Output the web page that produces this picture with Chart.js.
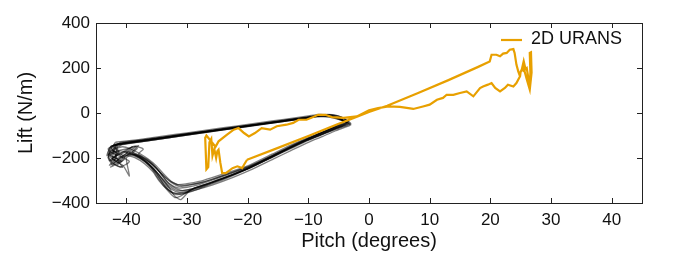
<!DOCTYPE html>
<html>
<head>
<meta charset="utf-8">
<script src="https://cdn.jsdelivr.net/npm/chart.js@4.4.1/dist/chart.umd.min.js"></script>
<style>
html,body{margin:0;padding:0;background:#fff;}
#wrap{width:673px;height:269px;position:relative;}
</style>
</head>
<body>
<div id="wrap"><canvas id="c" width="673" height="269"></canvas></div>
<script>
// ---- data (pitch in degrees, lift in N/m) ----
const xTickValues = [-40, -30, -20, -10, 0, 10, 20, 30, 40];
const yTickValues = [-400, -200, 0, 200, 400];
const seriesLabel = '2D URANS';

// 2D URANS hysteresis loop [pitch, lift]
const uransLoop = [
  [-20.1,-208],[-15,-155],[-10,-102],[-5,-48],[-2.5,-22],[0,5],[3,32],[8,88],[13,145],[18,205],
  [19.9,229],[20.2,259],[21,259],[21.6,252],[22.1,264],[22.7,267],[23.2,281],[23.8,284],[24,267],
  [24.3,215],[24.6,185],[24.8,170],[25.2,195],[25.5,230],[25.8,195],[25.3,185],[26,200],[26.3,150],
  [26.5,110],[26.6,180],[26.5,267],[26.7,270],[26.8,180],[26.5,104],[26,150],[25.5,200],[25,185],
  [24.9,163],[24.3,133],[23.8,118],[22.9,126],[22.4,111],[21.6,96],[20.8,111],[20.2,133],[19.6,126],
  [18.8,118],[18.3,111],[17.2,74],[16.1,96],[15,89],[13.9,81],[12.8,81],[12.2,67],[11.2,59],[10,37],
  [8.9,29],[7.3,18],[6.5,22],[5.1,27],[3.2,29],[1.5,22],[0,12],[-2,-15],[-4.2,-22],[-6.1,-18],
  [-7.2,-8],[-8.4,-8],[-9.2,-18],[-10.3,-30],[-11.6,-30],[-12.5,-44],[-13.6,-52],[-15.2,-59],
  [-16.3,-74],[-17.7,-67],[-18.8,-89],[-19.8,-104],[-20.6,-89],[-21.5,-67],[-22.3,-74],[-23.4,-96],
  [-24.8,-126],[-25.3,-150],[-26.8,-100],[-27,-110],[-26.8,-250],[-26.5,-240],[-26.3,-130],[-26,-115],
  [-25.8,-190],[-25.5,-160],[-25.2,-200],[-25,-170],[-24.8,-163],[-24.5,-222],[-24.2,-267],
  [-23.6,-267],[-22.5,-245],[-21.7,-237],[-20.9,-245],[-20.6,-230],[-20.1,-208]
];

// measured cycles [pitch, lift]
const expCycle1 = [[-41.5,-138],[-38,-125],[-34,-110],[-30,-94],[-26,-79],[-22,-64],[-18,-49],[-14,-34],[-10,-19],[-8,-11],[-6.5,-11],[-5,-22],[-3.8,-42],[-4.5,-54],[-6,-70],[-8,-92],[-10,-113],[-13,-150],[-16,-190],[-20,-243],[-23,-272],[-26,-300],[-28,-318],[-30,-330],[-31.5,-333],[-33,-312],[-34,-283],[-35,-245],[-36.5,-207],[-38,-182],[-37.2,-160],[-38.8,-148],[-40.5,-172],[-41.8,-195],[-40.8,-215],[-42.3,-205],[-41.2,-170],[-42,-150],[-41.5,-138]];
const expCycle2 = [[-42,-142],[-38,-129],[-34,-114],[-30,-98],[-26,-83],[-22,-67],[-18,-52],[-14,-37],[-10,-22],[-8,-14],[-6,-16],[-4.5,-30],[-3.2,-50],[-4,-60],[-6,-78],[-8,-100],[-10,-122],[-13,-160],[-16,-198],[-20,-250],[-23,-282],[-26,-312],[-28,-332],[-30,-348],[-31.5,-352],[-33,-330],[-34,-300],[-35,-262],[-36.5,-220],[-38,-190],[-39.5,-176],[-38.5,-150],[-40.5,-190],[-42,-225],[-41,-240],[-39.5,-215],[-42.5,-175],[-43,-160],[-42,-142]];
const expCycle3 = [[-40.5,-132],[-37,-119],[-33,-104],[-29,-89],[-25,-74],[-21,-59],[-17,-44],[-13,-30],[-9.5,-16],[-7.5,-8],[-6,-9],[-4.5,-18],[-3.5,-38],[-4.2,-48],[-5.5,-62],[-7.5,-84],[-10,-108],[-13,-144],[-16,-183],[-20,-235],[-23,-262],[-26,-288],[-28,-304],[-30,-314],[-31.5,-318],[-33,-298],[-34.5,-262],[-36,-222],[-37.5,-192],[-39,-172],[-38,-145],[-40,-160],[-41.5,-168],[-43,-185],[-42.4,-215],[-42,-160],[-41,-145],[-40.5,-132]];
const expCycle4 = [[-42.5,-146],[-39,-131],[-35,-115],[-31,-99],[-27,-84],[-23,-69],[-19,-54],[-15,-39],[-11,-24],[-8.5,-14],[-7,-12],[-5.5,-19],[-4,-35],[-4.8,-50],[-6.5,-72],[-8.5,-96],[-11,-126],[-14,-166],[-17,-205],[-20.5,-252],[-24,-290],[-27,-318],[-29,-337],[-31,-368],[-32,-376],[-33.5,-335],[-35,-280],[-36,-240],[-37.5,-205],[-39,-186],[-40,-200],[-39.5,-280],[-40.5,-235],[-42,-210],[-43,-180],[-42.5,-146]];
const expCycle5 = [[-41,-134],[-37.5,-122],[-33.5,-107],[-29.5,-92],[-25.5,-77],[-21.5,-62],[-17.5,-47],[-13.5,-32],[-9.5,-18],[-7.8,-9],[-6.2,-8],[-4.8,-16],[-3,-46],[-3.6,-52],[-5.2,-66],[-7,-86],[-9.5,-112],[-12.5,-148],[-15.5,-188],[-19,-236],[-22,-268],[-25,-298],[-27.5,-322],[-29.5,-340],[-31,-344],[-32.5,-325],[-33.5,-298],[-34.5,-262],[-36,-222],[-37.5,-196],[-39,-180],[-38.2,-158],[-40,-190],[-41.5,-230],[-40.5,-205],[-42,-168],[-43.2,-190],[-42.6,-150],[-41,-134]];
const expCycle6 = [[-42,-140],[-38.5,-127],[-34.5,-112],[-30.5,-96],[-26.5,-81],[-22.5,-66],[-18.5,-51],[-14.5,-36],[-10.5,-21],[-8.2,-12],[-6.8,-13],[-5.2,-26],[-3.6,-44],[-4.4,-58],[-6.2,-76],[-8.2,-98],[-10.5,-124],[-13.5,-162],[-16.5,-202],[-20,-248],[-23,-280],[-26,-310],[-28.5,-330],[-30.5,-358],[-32,-362],[-33.5,-330],[-34.5,-290],[-35.5,-250],[-37,-212],[-38.5,-188],[-40,-178],[-39,-150],[-41,-185],[-42.5,-165],[-43,-200],[-42.2,-230],[-41.5,-150],[-42,-140]];
const expCycle7 = [[-41.2,-136],[-37.5,-123],[-33.5,-108],[-29.5,-93],[-25.5,-78],[-21.5,-63],[-17.5,-48],[-13.5,-33],[-9.8,-18],[-7.9,-10],[-6.4,-10],[-4.9,-24],[-3.4,-47],[-4.1,-56],[-5.8,-73],[-7.8,-95],[-10,-118],[-13,-156],[-16,-196],[-19.5,-240],[-22.5,-275],[-25.5,-306],[-27.5,-326],[-29.5,-344],[-31,-385],[-32,-370],[-33,-330],[-34,-295],[-35.5,-250],[-37,-215],[-38.5,-193],[-40,-182],[-41,-196],[-42.8,-212],[-41.5,-185],[-42.5,-155],[-41.2,-136]];
const expCycle8 = [[-41.8,-139],[-38,-126],[-34,-111],[-30,-95],[-26,-80],[-22,-65],[-18,-50],[-14,-35],[-10,-20],[-8.1,-12],[-6.6,-12],[-5.1,-21],[-3.9,-40],[-4.6,-52],[-6.3,-70],[-8.3,-93],[-10.3,-117],[-13.3,-155],[-16.3,-195],[-19.8,-238],[-22.8,-266],[-25.8,-294],[-27.8,-310],[-29.8,-322],[-31.3,-326],[-32.8,-305],[-34,-276],[-35.2,-240],[-36.7,-210],[-38.2,-186],[-39.6,-173],[-41,-178],[-42.2,-202],[-41.2,-222],[-40.2,-200],[-41.8,-160],[-41.8,-139]];
const expCycle9 = [[-41.8,-130],[-38,-118],[-34,-103],[-30,-88],[-26,-73],[-22,-58],[-18,-43],[-14,-28],[-10,-13],[-8.3,-6],[-6.9,-8],[-5.4,-20],[-3.7,-43],[-4.3,-55],[-6,-74],[-8,-97],[-10.2,-121],[-13.2,-158],[-16.2,-197],[-19.8,-245],[-22.8,-277],[-25.8,-306],[-28,-328],[-30,-342],[-31.5,-346],[-33,-322],[-34.2,-288],[-35.4,-250],[-36.8,-214],[-38.3,-190],[-39.8,-176],[-41,-168],[-42.6,-188],[-41.4,-208],[-42.8,-232],[-41.6,-196],[-42.4,-158],[-41.8,-130]];
const expCycle10 = [[-42.2,-144],[-38.5,-131],[-34.5,-116],[-30.5,-100],[-26.5,-84],[-22.5,-69],[-18.5,-54],[-14.5,-39],[-10.5,-24],[-8.6,-16],[-6.6,-18],[-4.6,-32],[-3,-52],[-3.8,-62],[-5.6,-80],[-7.6,-104],[-9.8,-128],[-12.8,-166],[-15.8,-205],[-19.4,-252],[-22.4,-286],[-25.4,-316],[-27.8,-336],[-30,-352],[-32,-356],[-33.4,-336],[-34.6,-302],[-35.6,-262],[-37,-225],[-38.6,-198],[-40.2,-188],[-41.4,-210],[-40.6,-242],[-42,-228],[-43,-196],[-42,-170],[-42.2,-144]];
const expCycle11 = [[-41,-131],[-37.5,-119],[-33.5,-105],[-29.5,-90],[-25.5,-75],[-21.5,-60],[-17.5,-45],[-13.5,-30],[-9.6,-15],[-7.7,-7],[-6.1,-7],[-4.7,-17],[-3.3,-40],[-4,-50],[-5.6,-66],[-7.6,-88],[-9.8,-111],[-12.8,-146],[-15.8,-186],[-19.3,-232],[-22.3,-262],[-25.3,-290],[-27.5,-308],[-29.5,-318],[-31,-322],[-32.5,-306],[-33.8,-272],[-35,-236],[-36.4,-205],[-37.8,-180],[-39.3,-160],[-40.6,-150],[-42,-162],[-42.8,-178],[-41.8,-150],[-41,-131]];
const expCycle12 = [[-42.4,-147],[-38.8,-133],[-34.8,-117],[-30.8,-101],[-26.8,-86],[-22.8,-71],[-18.8,-56],[-14.8,-40],[-10.8,-25],[-8.8,-17],[-7.2,-15],[-5.6,-22],[-4.2,-38],[-5,-53],[-6.8,-75],[-8.8,-99],[-11.2,-130],[-14.2,-170],[-17.2,-210],[-20.8,-258],[-24,-296],[-27,-326],[-29.2,-348],[-31.2,-360],[-32.6,-352],[-33.8,-316],[-35,-272],[-36.2,-232],[-37.6,-200],[-39.2,-182],[-40.6,-198],[-41.6,-226],[-42.6,-240],[-41.2,-212],[-42.8,-182],[-42.4,-147]];
const expCycles = [expCycle1, expCycle2, expCycle3, expCycle4, expCycle5, expCycle6,
                   expCycle7, expCycle8, expCycle9, expCycle10, expCycle11, expCycle12];

// ---- chart ----
const FONT = '"Liberation Sans", Arial, Helvetica, sans-serif';
const ORANGE = '#E8A000';
const toPts = arr => arr.map(p => ({x: p[0], y: p[1]}));
const minusFmt = v => String(v).replace('-', '\u2212');

const datasets = [{
  label: seriesLabel,
  data: toPts(uransLoop),
  borderColor: ORANGE,
  backgroundColor: ORANGE,
  borderWidth: 2.2,
  pointRadius: 0,
  showLine: true,
  tension: 0
}];
expCycles.forEach((cyc, i) => {
  datasets.push({
    label: 'exp' + (i + 1),
    data: toPts(cyc),
    borderColor: 'rgba(0,0,0,0.5)',
    borderWidth: 1.3,
    pointRadius: 0,
    showLine: true,
    tension: 0.2
  });
});

const frameTicks = {
  id: 'frameTicks',
  afterDatasetsDraw(chart) {
    const {ctx, chartArea: a, scales: {x, y}} = chart;
    ctx.save();
    ctx.strokeStyle = '#222';
    ctx.lineWidth = 1;
    ctx.strokeRect(Math.round(a.left) + 0.5, Math.round(a.top) + 0.5,
                   Math.round(a.right - a.left), Math.round(a.bottom - a.top));
    const L = 5;
    ctx.beginPath();
    xTickValues.forEach(v => {
      const px = Math.round(x.getPixelForValue(v)) + 0.5;
      ctx.moveTo(px, a.bottom); ctx.lineTo(px, a.bottom - L);
      ctx.moveTo(px, a.top); ctx.lineTo(px, a.top + L);
    });
    yTickValues.forEach(v => {
      const py = Math.round(y.getPixelForValue(v)) + 0.5;
      ctx.moveTo(a.left, py); ctx.lineTo(a.left + L, py);
      ctx.moveTo(a.right, py); ctx.lineTo(a.right - L, py);
    });
    ctx.stroke();
    // legend (inside plot, top right)
    const lx = a.right - 141, ly = a.top + 16;
    ctx.strokeStyle = ORANGE;
    ctx.lineWidth = 2.2;
    ctx.beginPath();
    ctx.moveTo(lx, ly + 1); ctx.lineTo(lx + 21, ly + 1);
    ctx.stroke();
    ctx.fillStyle = '#111';
    ctx.font = '18px ' + FONT;
    ctx.textBaseline = 'middle';
    ctx.textAlign = 'left';
    ctx.fillText(seriesLabel, lx + 30, ly);
    ctx.restore();
  }
};

new Chart(document.getElementById('c'), {
  type: 'scatter',
  data: {datasets},
  options: {
    responsive: false,
    animation: false,
    layout: {padding: {top: 23, right: 31, left: 0, bottom: 0}},
    plugins: {
      tooltip: {enabled: false},
      legend: {display: false}
    },
    scales: {
      x: {
        type: 'linear', min: -45, max: 45,
        grid: {display: false, drawTicks: false},
        border: {display: false},
        afterBuildTicks: s => { s.ticks = xTickValues.map(v => ({value: v})); },
        afterFit: s => { s.height = 66; },
        ticks: {color: '#111', font: {family: FONT, size: 17}, padding: 7, maxRotation: 0,
                callback: v => minusFmt(v)},
        title: {display: true, text: 'Pitch (degrees)', color: '#111',
                font: {family: FONT, size: 20}, padding: {top: 0, bottom: 16}}
      },
      y: {
        type: 'linear', min: -400, max: 400,
        grid: {display: false, drawTicks: false},
        border: {display: false},
        afterBuildTicks: s => { s.ticks = yTickValues.map(v => ({value: v})); },
        afterFit: s => { s.width = 96; },
        ticks: {color: '#111', font: {family: FONT, size: 17}, padding: 6,
                callback: v => minusFmt(v)},
        title: {display: true, text: 'Lift (N/m)', color: '#111',
                font: {family: FONT, size: 20}, padding: {top: 14, bottom: 0}}
      }
    }
  },
  plugins: [frameTicks]
});
</script>
</body>
</html>
